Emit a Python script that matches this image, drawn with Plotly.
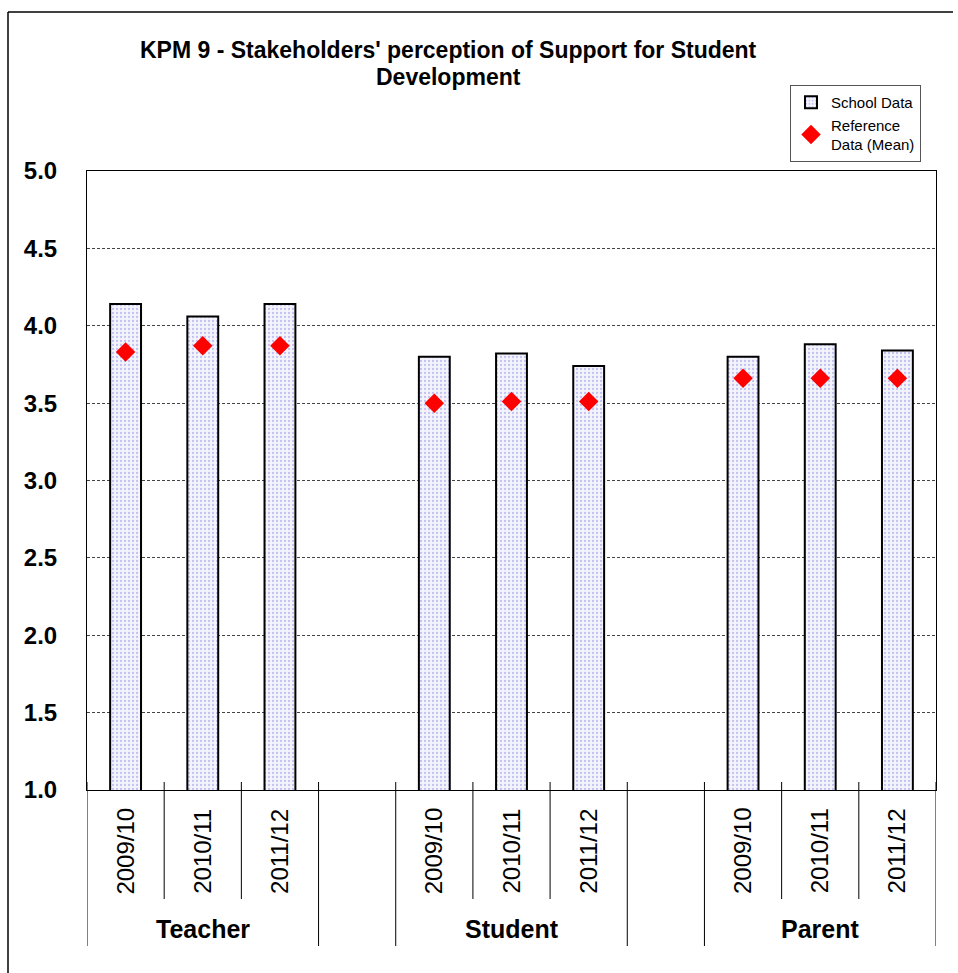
import plotly.graph_objects as go

groups = ["Teacher", "Student", "Parent"]
years = ["2009/10", "2010/11", "2011/12"]
school_data = {
    "Teacher": [4.14, 4.06, 4.14],
    "Student": [3.80, 3.82, 3.74],
    "Parent": [3.80, 3.88, 3.84],
}
reference_mean = {
    "Teacher": [3.83, 3.87, 3.87],
    "Student": [3.50, 3.51, 3.51],
    "Parent": [3.66, 3.66, 3.66],
}
y_ticks = [1.0, 1.5, 2.0, 2.5, 3.0, 3.5, 4.0, 4.5, 5.0]
title_lines = ["KPM 9 - Stakeholders' perception of Support for Student", "Development"]

FONT = "Arial, Liberation Sans, sans-serif"

xs, sv, rv, labels = [], [], [], []
for g, name in enumerate(groups):
    for i, yr in enumerate(years):
        xs.append(g * 4 + i)
        sv.append(school_data[name][i])
        rv.append(reference_mean[name][i])
        labels.append(yr)

fig = go.Figure()
fig.add_trace(go.Bar(
    x=xs, y=sv, base=0, name="School Data", width=0.4,
    marker=dict(color="#f2f2fc", line=dict(color="black", width=2),
                pattern=dict(shape=".", fgcolor="#8f8fe8", bgcolor="#f4f4fd", size=4, solidity=0.25)),
))
fig.add_trace(go.Scatter(
    x=xs, y=rv, mode="markers", name="Reference<br>Data (Mean)",
    marker=dict(symbol="diamond", color="#ff0000", size=15, line=dict(width=0)),
))

PH = 619.0
PW = 849.0
def py(p):
    return (790 - p) / PH
def px(p):
    return (p - 87) / PW

shapes = []
for k in range(12):
    xb = k - 0.5
    long = xb in (-0.5, 2.5, 3.5, 6.5, 7.5, 10.5)
    shapes.append(dict(type="line", xref="x", yref="paper", x0=xb, x1=xb,
                       y0=py(782), y1=py(946) if long else py(899),
                       line=dict(color="black", width=1)))
# outer frame (top and left edges visible)
shapes.append(dict(type="line", xref="paper", yref="paper", x0=px(8), x1=px(953), y0=py(12), y1=py(12),
                   line=dict(color="black", width=1.5)))
shapes.append(dict(type="line", xref="paper", yref="paper", x0=px(8), x1=px(8), y0=py(12), y1=py(975),
                   line=dict(color="black", width=1.5)))

annotations = []
for x, lab in zip(xs, labels):
    annotations.append(dict(x=x, xref="x", y=py(851), yref="paper", text=lab,
                            textangle=-90, showarrow=False, xanchor="center", yanchor="middle",
                            font=dict(family=FONT, size=24, color="black")))
for g, name in enumerate(groups):
    annotations.append(dict(x=g * 4 + 1, xref="x", y=py(929), yref="paper", text="<b>%s</b>" % name,
                            showarrow=False, xanchor="center", yanchor="middle",
                            font=dict(family=FONT, size=25, color="black")))
for line, yc in zip(title_lines, [50, 77]):
    annotations.append(dict(x=px(448), xref="paper", y=py(yc), yref="paper", text="<b>%s</b>" % line,
                            showarrow=False, xanchor="center", yanchor="middle",
                            font=dict(family=FONT, size=23, color="black")))

fig.update_layout(
    width=958, height=973,
    margin=dict(l=87, r=22, t=171, b=183),
    paper_bgcolor="white", plot_bgcolor="white",
    font=dict(family=FONT, color="black"),
    showlegend=True,
    legend=dict(x=px(790), y=py(85), xanchor="left", yanchor="top",
                bgcolor="white", bordercolor="#555555", borderwidth=1,
                font=dict(family=FONT, size=15), tracegroupgap=0, itemwidth=30),
    shapes=shapes, annotations=annotations,
    bargap=0.6,
)
fig.update_xaxes(range=[-0.5, 10.5], showticklabels=False, ticks="", showgrid=False,
                 showline=True, linecolor="black", linewidth=1, mirror=True, zeroline=False)
fig.update_yaxes(range=[1, 5], tickvals=y_ticks, tickformat=".1f", showgrid=True,
                 gridcolor="#444444", griddash="3px,2px", gridwidth=1,
                 showline=True, linecolor="black", linewidth=1, mirror=True, zeroline=False,
                 ticks="", ticklabelstandoff=24,
                 tickfont=dict(family=FONT, size=24, color="black", weight="bold"))

fig.write_html("out.html")
